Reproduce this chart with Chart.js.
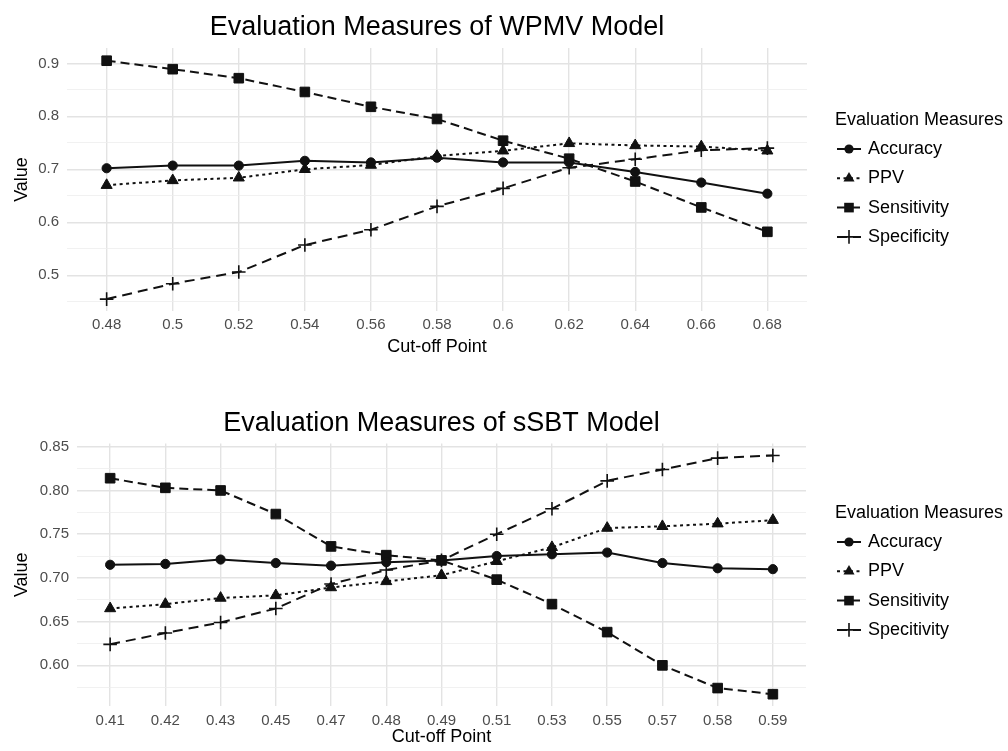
<!DOCTYPE html>
<html>
<head>
<meta charset="utf-8">
<script src="https://cdn.jsdelivr.net/npm/chart.js@4.4.1/dist/chart.umd.min.js"></script>
<style>
html,body{margin:0;padding:0;background:#fff;}
#wrap{position:relative;width:1008px;height:751px;overflow:hidden;}
canvas{position:absolute;left:0;}
</style>
</head>
<body>
<div id="wrap">
<canvas id="topChart" width="1008" height="376" style="top:0"></canvas>
<canvas id="bottomChart" width="1008" height="375" style="top:376px"></canvas>
</div>
<script>
// cut-off points (discrete x categories)
const wpmvCutoffs=['0.48','0.5','0.52','0.54','0.56','0.58','0.6','0.62','0.64','0.66','0.68'];
const ssbtCutoffs=['0.41','0.42','0.43','0.45','0.47','0.48','0.49','0.51','0.53','0.55','0.57','0.58','0.59'];

// WPMV model
const wpmvAccuracy=[0.702,0.707,0.707,0.716,0.713,0.722,0.713,0.713,0.695,0.675,0.654];
const wpmvPPV=[0.670,0.679,0.684,0.700,0.708,0.725,0.735,0.749,0.745,0.743,0.735];
const wpmvSensitivity=[0.905,0.889,0.872,0.846,0.818,0.795,0.754,0.720,0.677,0.628,0.582];
const wpmvSpecificity=[0.455,0.484,0.506,0.557,0.586,0.630,0.664,0.703,0.719,0.736,0.740];

// sSBT model
const ssbtAccuracy=[0.715,0.716,0.721,0.717,0.714,0.718,0.720,0.725,0.727,0.729,0.717,0.711,0.710];
const ssbtPPV=[0.665,0.670,0.677,0.680,0.689,0.696,0.703,0.719,0.735,0.757,0.759,0.762,0.766];
const ssbtSensitivity=[0.814,0.803,0.800,0.773,0.736,0.726,0.720,0.698,0.670,0.638,0.600,0.574,0.567];
const ssbtSpecificity=[0.624,0.637,0.649,0.665,0.693,0.709,0.720,0.750,0.779,0.811,0.824,0.837,0.840];

const wpmvLabels=['Accuracy','PPV','Sensitivity','Specificity'];
const ssbtLabels=['Accuracy','PPV','Sensitivity','Specitivity'];

const FONT="'Liberation Sans', Arial, Helvetica, sans-serif";
const INK='#111';

// line / marker look of each measure, same order as the labels
const looks=[
  {pointStyle:'circle',radius:4.6,dash:[]},
  {pointStyle:'triangle',radius:6.4,dash:[3,3.5]},
  {pointStyle:'rect',radius:6.8,dash:[9,5]},
  {pointStyle:'cross',radius:6.8,dash:[10,6]}
];

function isStep(v,step){
  return Math.abs(v/step-Math.round(v/step))<1e-6;
}

function drawMarker(ctx,style,x,y,r){
  ctx.beginPath();
  if(style==='circle'){
    ctx.arc(x,y,r,0,Math.PI*2);
    ctx.fill();
  }else if(style==='triangle'){
    for(let k=0;k<3;k++){
      let a=k*2*Math.PI/3;
      let px=x+Math.sin(a)*r, py=y-Math.cos(a)*r;
      if(k===0)ctx.moveTo(px,py);else ctx.lineTo(px,py);
    }
    ctx.closePath();
    ctx.fill();
  }else if(style==='rect'){
    let s=Math.SQRT1_2*r;
    ctx.rect(x-s,y-s,2*s,2*s);
    ctx.fill();
  }else{
    ctx.lineWidth=1.6;
    ctx.moveTo(x-r,y);ctx.lineTo(x+r,y);
    ctx.moveTo(x,y-r);ctx.lineTo(x,y+r);
    ctx.stroke();
  }
}

// ggplot style legend: title + line/marker keys on the right
const keyLegend={
  id:'keyLegend',
  afterDraw(chart,args,o){
    const ctx=chart.ctx;
    ctx.save();
    ctx.font='18px '+FONT;
    ctx.fillStyle='#000';
    ctx.strokeStyle=INK;
    ctx.textBaseline='middle';
    ctx.textAlign='left';
    ctx.fillText(o.title,835,o.top);
    chart.data.datasets.forEach((ds,i)=>{
      let y=o.top+29+i*29.3;
      let lk=looks[i];
      ctx.save();
      ctx.beginPath();
      ctx.setLineDash(lk.dash);
      ctx.lineWidth=2;
      ctx.moveTo(837,y);ctx.lineTo(861,y);
      ctx.stroke();
      ctx.setLineDash([]);
      ctx.fillStyle=INK;
      drawMarker(ctx,lk.pointStyle,849,y,lk.radius);
      ctx.restore();
      ctx.fillText(ds.label,868,y);
    });
    ctx.restore();
  }
};

function buildChart(id,cfg){
  const n=cfg.cutoffs.length;
  const datasets=cfg.series.map((values,i)=>({
    label:cfg.labels[i],
    data:values.map((v,k)=>({x:k,y:v})),
    borderColor:INK,
    backgroundColor:INK,
    borderWidth:2,
    borderDash:looks[i].dash,
    pointStyle:looks[i].pointStyle,
    pointRadius:looks[i].radius,
    pointBorderWidth:looks[i].pointStyle==='cross'?1.6:1,
    pointBackgroundColor:INK,
    pointBorderColor:INK,
    tension:0,
    fill:false
  }));
  return new Chart(document.getElementById(id).getContext('2d'),{
    type:'line',
    data:{datasets:datasets},
    options:{
      responsive:false,
      animation:false,
      devicePixelRatio:1,
      layout:{padding:cfg.padding},
      plugins:{
        legend:{display:false},
        tooltip:{enabled:false},
        title:{display:true,fullSize:false,text:cfg.title,color:'#000',font:{family:FONT,size:27,weight:'normal'},padding:cfg.titlePad},
        keyLegend:{title:'Evaluation Measures',top:cfg.legendTop}
      },
      scales:{
        x:{
          type:'linear',
          min:-0.6,max:n-1+0.6,
          border:{display:false},
          grid:{color:'#e3e3e3',lineWidth:1.4,drawTicks:false},
          ticks:{
            stepSize:1,includeBounds:false,autoSkip:false,maxRotation:0,
            padding:cfg.xTickPad,color:'#4d4d4d',font:{family:FONT,size:15,lineHeight:1},
            callback:v=>Number.isInteger(v)?cfg.cutoffs[v]:''
          },
          title:{display:true,text:'Cut-off Point',color:'#000',font:{family:FONT,size:18,lineHeight:1},padding:{top:cfg.xTitleTop,bottom:0}}
        },
        y:{
          min:cfg.yMin,max:cfg.yMax,
          border:{display:false},
          grid:{
            drawTicks:false,
            color:c=>isStep(c.tick.value,cfg.major)?'#e3e3e3':'#ededed',
            lineWidth:c=>isStep(c.tick.value,cfg.major)?1.4:0.8
          },
          ticks:{
            stepSize:cfg.minor,includeBounds:false,padding:8,color:'#4d4d4d',
            font:{family:FONT,size:15,lineHeight:1},
            callback:v=>isStep(v,cfg.major)?v.toFixed(cfg.decimals):''
          },
          title:{display:true,text:'Value',color:'#000',font:{family:FONT,size:18,lineHeight:1},padding:{top:13,bottom:0}},
          afterFit:function(s){s.width=cfg.yWidth;}
        }
      }
    },
    plugins:[keyLegend]
  });
}

buildChart('topChart',{
  title:'Evaluation Measures of WPMV Model',
  cutoffs:wpmvCutoffs,
  labels:wpmvLabels,
  series:[wpmvAccuracy,wpmvPPV,wpmvSensitivity,wpmvSpecificity],
  yMin:0.4325,yMax:0.929,major:0.1,minor:0.05,decimals:1,
  yWidth:67,
  padding:{left:0,right:201,top:0,bottom:20},
  titlePad:{top:11.8,bottom:3.8},
  xTickPad:6,xTitleTop:0,
  legendTop:120
});

buildChart('bottomChart',{
  title:'Evaluation Measures of sSBT Model',
  cutoffs:ssbtCutoffs,
  labels:ssbtLabels,
  series:[ssbtAccuracy,ssbtPPV,ssbtSensitivity,ssbtSpecificity],
  yMin:0.5535,yMax:0.8537,major:0.05,minor:0.025,decimals:2,
  yWidth:77,
  padding:{left:0,right:202,top:0,bottom:5},
  titlePad:{top:31,bottom:4.1},
  xTickPad:7,xTitleTop:-7,
  legendTop:137
});
</script>
</body>
</html>
